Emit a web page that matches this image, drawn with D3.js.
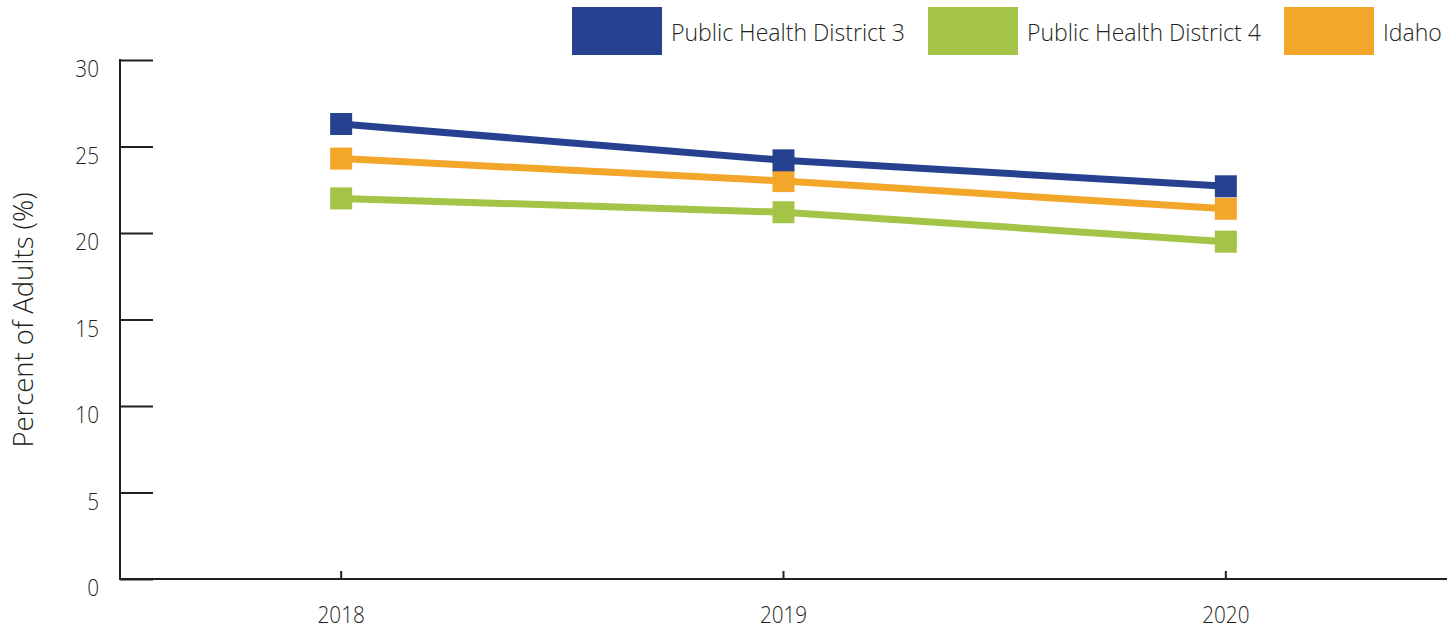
<!DOCTYPE html>
<html><head><meta charset="utf-8">
<script src="https://cdn.jsdelivr.net/npm/d3@7"></script>
<style>body{margin:0;background:#fff;} text{font-family:"Open Sans",sans-serif;fill:#231f20;font-weight:300;}</style>
</head><body><svg id="c" width="1455" height="629"></svg>
<script>
const years = ["2018","2019","2020"];
const seriesNames = ["Public Health District 3","Public Health District 4","Idaho"];
const district3 = [26.3, 24.2, 22.7];
const district4 = [22.0, 21.2, 19.5];
const idaho = [24.3, 23.0, 21.4];
const yTicks = [0,5,10,15,20,25,30];
const colors = ["#264190","#A3C447","#F2A62A"];
const series = [
  {name: seriesNames[0], values: district3, color: colors[0]},
  {name: seriesNames[1], values: district4, color: colors[1]},
  {name: seriesNames[2], values: idaho, color: colors[2]}
];
const drawOrder = [1,2,0];

const svg = d3.select("#c");
const x0 = 120, x1 = 1447, yTop = 60, yBot = 579;
const x = d3.scaleBand().domain(years).range([x0, x1]);
const y = d3.scaleLinear().domain([0,30]).range([yBot, yTop]);
const axisColor = "#231f20";

function label(g, tx, ty, str, size, anchor, sx, rot) {
  return g.append("text")
    .attr("transform", `translate(${tx},${ty})` + (rot ? ` rotate(${rot})` : "") + ` scale(${sx},1)`)
    .attr("text-anchor", anchor).attr("font-size", size).text(str);
}

// y axis
const ya = svg.append("g").attr("transform", `translate(${x0},0)`)
  .call(d3.axisRight(y).tickValues(yTicks).tickSize(33).tickFormat(""));
ya.select(".domain").remove();
ya.selectAll("line").attr("stroke", axisColor).attr("stroke-width", 2);
svg.append("line").attr("x1", x0).attr("x2", x0).attr("y1", yTop-1).attr("y2", yBot+1)
  .attr("stroke", axisColor).attr("stroke-width", 2);
const yl = svg.append("g");
yTicks.forEach(d => label(yl, 99, y(d) + 17, d, 23, "end", 0.9));

// x axis
svg.append("line").attr("x1", x0).attr("x2", x1).attr("y1", yBot).attr("y2", yBot)
  .attr("stroke", axisColor).attr("stroke-width", 2);
const xa = svg.append("g").attr("transform", `translate(0,${yBot})`)
  .call(d3.axisTop(x).tickSize(8).tickFormat(""));
xa.select(".domain").remove();
xa.selectAll("line").attr("stroke", axisColor).attr("stroke-width", 2);
const xl = svg.append("g");
years.forEach(d => label(xl, x(d) + x.bandwidth()/2, 623, d, 23, "middle", 0.9));

// y title
label(svg, 33, 320, "Percent of Adults (%)", 28, "middle", 0.98, -90);

// lines
const cx = d => x(d) + x.bandwidth()/2;
const line = d3.line().x((d,i) => cx(years[i])).y(d => y(d));
drawOrder.forEach(k => {
  const s = series[k];
  svg.append("path").attr("d", line(s.values)).attr("fill", "none")
    .attr("stroke", s.color).attr("stroke-width", 7);
  svg.append("g").selectAll("rect").data(s.values).join("rect")
    .attr("x", (d,i) => cx(years[i]) - 11).attr("y", d => y(d) - 11)
    .attr("width", 22).attr("height", 22).attr("fill", s.color);
});

// legend
const legX = [572, 928, 1284];
series.forEach((s, i) => {
  svg.append("rect").attr("x", legX[i]).attr("y", 7).attr("width", 90).attr("height", 48).attr("fill", s.color);
  label(svg, legX[i] + 99, 41, s.name, 24, "start", 0.96);
});
</script></body></html>
